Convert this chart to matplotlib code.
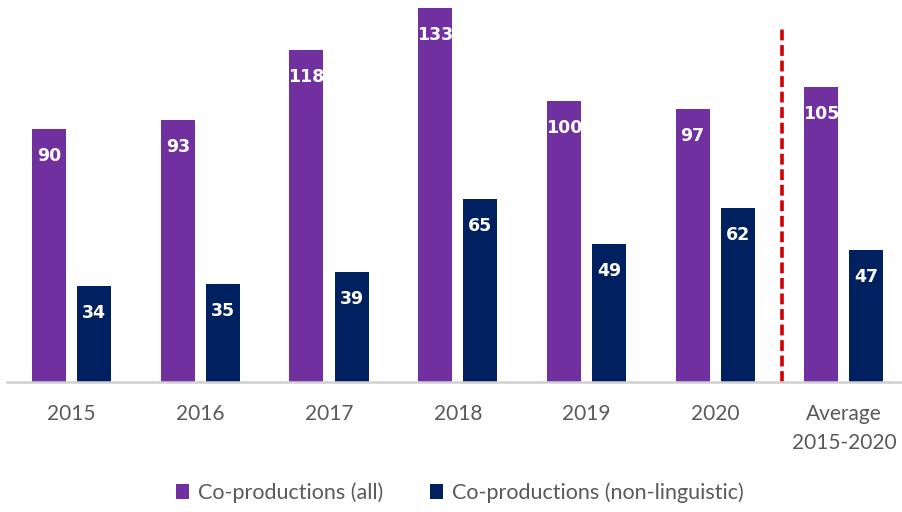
import matplotlib
matplotlib.use("Agg")
import matplotlib.pyplot as plt
import numpy as np

categories = ["2015", "2016", "2017", "2018", "2019", "2020", "Average\n2015-2020"]
all_vals = [90, 93, 118, 133, 100, 97, 105]
nonling_vals = [34, 35, 39, 65, 49, 62, 47]
series_names = ["Co-productions (all)", "Co-productions (non-linguistic)"]

purple = "#7030A0"
navy = "#002060"

fig = plt.figure(figsize=(9.03, 5.12), dpi=100)
W, H = 903, 512
ax = fig.add_axes([7.2 / W, 1 - 382 / H, (903 - 7.2) / W, (382 - 8) / H])

x = np.arange(len(categories))
bw = 0.264
off = 0.175
b1 = ax.bar(x - off, all_vals, bw, color=purple, label=series_names[0], zorder=2)
b2 = ax.bar(x + off, nonling_vals, bw, color=navy, label=series_names[1], zorder=2)

for bars, vals in ((b1, all_vals), (b2, nonling_vals)):
    for r, v in zip(bars, vals):
        ax.text(r.get_x() + r.get_width() / 2, v - 9.6, str(v), ha="center", va="center",
                color="white", fontsize=12.5, fontweight="bold", family="DejaVu Sans", zorder=3)

ax.set_xlim(-0.5, 6.5 - 5.2 / 128.7)
ax.set_ylim(0, 133)
ax.axvline(5.52, ymin=0, ymax=(382 - 25) / 374, color="#D00000", linestyle=(0, (3, 1.3)), lw=2.6, zorder=1)

for s in ["top", "right", "left"]:
    ax.spines[s].set_visible(False)
ax.spines["bottom"].set_color("#D0D0D0")
ax.spines["bottom"].set_linewidth(1.8)
ax.set_yticks([])
ax.set_xticks(x)
ax.set_xticklabels(categories, fontsize=15, color="#595959", family="Lato", linespacing=1.55)
ax.tick_params(axis="x", length=0, pad=16)

leg = fig.legend(handles=[b1, b2], loc="center", bbox_to_anchor=(460 / W, 1 - 493 / H), ncol=2,
                 frameon=False, prop={"family": "Lato", "size": 15.5}, handlelength=0.6, handleheight=0.7,
                 handletextpad=0.4, columnspacing=2.2)
for t in leg.get_texts():
    t.set_color("#595959")

fig.savefig("out.png", dpi=100)
